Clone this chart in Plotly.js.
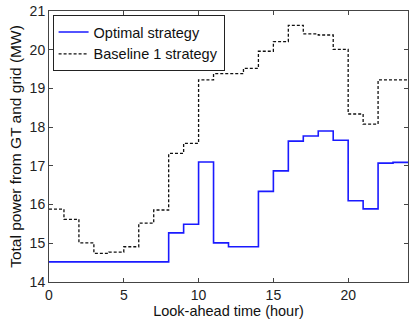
<!DOCTYPE html>
<html>
<head>
<meta charset="utf-8">
<script src="https://cdn.plot.ly/plotly-3.0.1.min.js"></script>
<style>html,body{margin:0;padding:0;background:#fff;}#chart{width:409px;height:320px;}</style>
</head>
<body>
<div id="chart"></div>
<script>
// hour boundaries 0..24
const hours = [0,1,2,3,4,5,6,7,8,9,10,11,12,13,14,15,16,17,18,19,20,21,22,23,24];
// values for each hourly interval (24 values)
const optimal = [14.52,14.52,14.52,14.52,14.52,14.52,14.52,14.52,15.27,15.49,17.10,15.01,14.91,14.91,16.34,16.87,17.64,17.77,17.90,17.66,16.10,15.89,17.07,17.09];
const baseline = [15.88,15.62,15.01,14.74,14.77,14.91,15.52,15.86,17.32,17.58,19.22,19.38,19.38,19.52,19.96,20.21,20.63,20.41,20.38,20.01,18.34,18.08,19.22,19.22];
const seriesNames = ["Optimal strategy","Baseline 1 strategy"];

function ext(a){ return a.concat([a[a.length-1]]); }

const traces = [
  {x: hours, y: ext(optimal), name: seriesNames[0], type: 'scatter', mode: 'lines',
   line: {shape: 'hv', color: '#1a1aff', width: 1.6}},
  {x: hours, y: ext(baseline), name: seriesNames[1], type: 'scatter', mode: 'lines',
   line: {shape: 'hv', color: '#111', width: 1.3, dash: '3px,2px'}}
];

const layout = {
  width: 409, height: 320,
  margin: {l: 49, r: 1, t: 11, b: 38},
  paper_bgcolor: '#fff', plot_bgcolor: '#fff',
  font: {family: 'Liberation Sans, Arial, sans-serif', size: 14, color: '#222'},
  showlegend: true,
  legend: {x: 0.01, y: 0.985, xanchor: 'left', yanchor: 'top', bordercolor: '#222', borderwidth: 1,
           bgcolor: '#fff', font: {size: 14.5, color: '#111'}, tracegroupgap: 0, itemwidth: 30},
  xaxis: {range: [0, 24], tickvals: [0,5,10,15,20], ticks: 'inside', ticklen: 4, tickcolor: '#444',
          showline: true, linecolor: '#444', linewidth: 1, mirror: 'ticks', showgrid: false, zeroline: false,
          tickfont: {size: 14, color: '#222'},
          title: {text: 'Look-ahead time (hour)', font: {size: 14.5, color: '#111'}, standoff: 3}},
  yaxis: {range: [14, 21], dtick: 1, ticks: 'inside', ticklen: 4, tickcolor: '#444',
          showline: true, linecolor: '#444', linewidth: 1, mirror: 'ticks', showgrid: false, zeroline: false,
          tickfont: {size: 14, color: '#222'},
          title: {text: 'Total power from GT and grid (MW)', font: {size: 15.5, color: '#111'}, standoff: 4}}
};

Plotly.newPlot('chart', traces, layout, {displayModeBar: false, staticPlot: true});
</script>
</body>
</html>
